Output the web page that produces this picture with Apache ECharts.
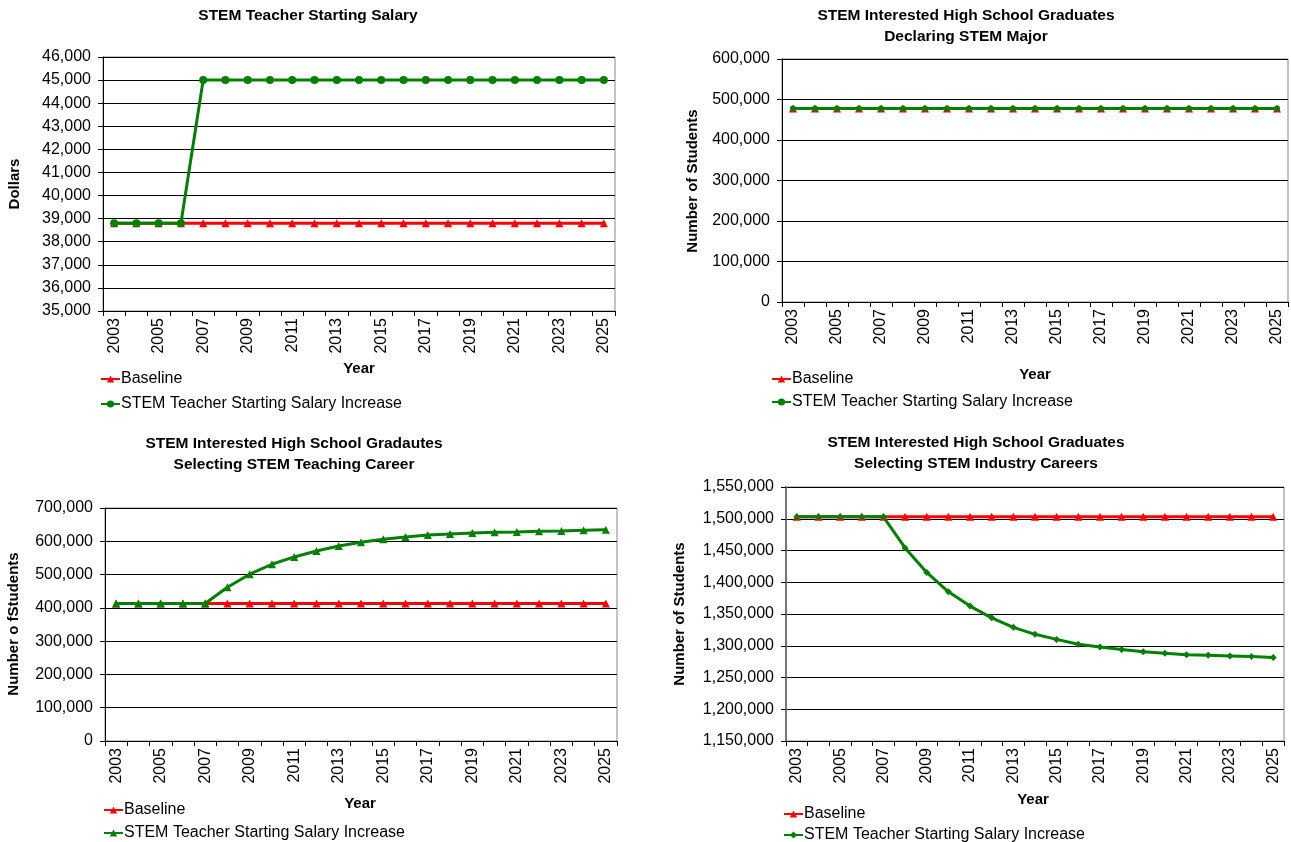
<!DOCTYPE html>
<html>
<head>
<meta charset="utf-8">
<script src="https://cdn.jsdelivr.net/npm/echarts@6/dist/echarts.min.js"></script>
<style>
html, body { margin: 0; padding: 0; background: #fff; overflow: hidden; }
.chart { position: absolute; }
</style>
</head>
<body>
<div id="c1" class="chart" style="left:0;top:0;width:645px;height:421px"></div>
<div id="c2" class="chart" style="left:645px;top:0;width:646px;height:421px"></div>
<div id="c3" class="chart" style="left:0;top:421px;width:645px;height:470px"></div>
<div id="c4" class="chart" style="left:645px;top:421px;width:646px;height:470px"></div>
<script>
const years = ["2003", "2004", "2005", "2006", "2007", "2008", "2009", "2010", "2011", "2012",
  "2013", "2014", "2015", "2016", "2017", "2018", "2019", "2020", "2021", "2022", "2023", "2024", "2025"];

const seriesNames = ["Baseline", "STEM Teacher Starting Salary Increase"];

// chart 1: starting salary (dollars)
const salaryBaseline = [38800, 38800, 38800, 38800, 38800, 38800, 38800, 38800, 38800, 38800,
  38800, 38800, 38800, 38800, 38800, 38800, 38800, 38800, 38800, 38800, 38800, 38800, 38800];
const salaryIncrease = [38800, 38800, 38800, 38800, 45000, 45000, 45000, 45000, 45000, 45000,
  45000, 45000, 45000, 45000, 45000, 45000, 45000, 45000, 45000, 45000, 45000, 45000, 45000];

// chart 2: declaring STEM major
const majorBaseline = [478000, 478000, 478000, 478000, 478000, 478000, 478000, 478000, 478000, 478000,
  478000, 478000, 478000, 478000, 478000, 478000, 478000, 478000, 478000, 478000, 478000, 478000, 478000];
const majorIncrease = [478000, 478000, 478000, 478000, 478000, 478000, 478000, 478000, 478000, 478000,
  478000, 478000, 478000, 478000, 478000, 478000, 478000, 478000, 478000, 478000, 478000, 478000, 478000];

// chart 3: selecting teaching career
const teachBaseline = [413000, 413000, 413000, 413000, 413000, 413000, 413000, 413000, 413000, 413000,
  413000, 413000, 413000, 413000, 413000, 413000, 413000, 413000, 413000, 413000, 413000, 413000, 413000];
const teachIncrease = [413000, 413000, 413000, 413000, 413000, 462000, 501000, 531000, 553000, 571000,
  586000, 597000, 606000, 613000, 619000, 622000, 625000, 627000, 628000, 630000, 631000, 633000, 635000];

// chart 4: selecting industry careers
const industryBaseline = [1503000, 1503000, 1503000, 1503000, 1503000, 1503000, 1503000, 1503000, 1503000, 1503000,
  1503000, 1503000, 1503000, 1503000, 1503000, 1503000, 1503000, 1503000, 1503000, 1503000, 1503000, 1503000, 1503000];
const industryIncrease = [1503000, 1503000, 1503000, 1503000, 1503000, 1454000, 1415500, 1385000, 1362500, 1344000,
  1329000, 1318000, 1310000, 1302500, 1298000, 1294000, 1290500, 1288000, 1286000, 1285000, 1284000, 1283000, 1281500];

const FONT = "'Liberation Sans', Arial, sans-serif";
const RED = "#ff0000";
const GREEN = "#008000";

function txt(text, x, y, opts) {
  opts = opts || {};
  return {
    type: "text",
    x: x,
    y: y,
    rotation: opts.rotate ? Math.PI / 2 : 0,
    style: {
      text: text,
      fontFamily: FONT,
      fontSize: opts.size || 15,
      fontWeight: "bold",
      fill: "#000",
      align: "center",
      verticalAlign: "middle",
      lineHeight: 21,
    },
  };
}

function makeChart(id, c) {
  let chart = echarts.init(document.getElementById(id));
  chart.setOption({
    animation: false,
    backgroundColor: "#fff",
    grid: {
      left: c.grid[0],
      top: c.grid[1],
      width: c.grid[2],
      height: c.grid[3],
      show: true,
      borderColor: "#888",
      borderWidth: 1,
    },
    legend: {
      orient: "vertical",
      left: c.legend[0],
      top: c.legend[1],
      padding: 0,
      itemWidth: 19,
      itemHeight: 9,
      itemGap: c.legend[2],
      data: seriesNames,
      textStyle: {
        fontFamily: FONT,
        fontSize: 16,
        lineHeight: 16,
        color: "#000",
        padding: [0, 0, 0, -4],
      },
    },
    graphic: [
      txt(c.title, c.titlePos[0], c.titlePos[1], { size: 15.5 }),
      txt(c.yName, c.yNamePos[0], c.yNamePos[1], { rotate: true }),
      txt("Year", c.xNamePos[0], c.xNamePos[1]),
    ],
    xAxis: {
      type: "category",
      data: years,
      boundaryGap: true,
      axisLine: { lineStyle: { color: "#000", width: 1 } },
      axisTick: { show: true, interval: 0, length: 5, lineStyle: { color: "#000" } },
      axisLabel: {
        interval: 1,
        rotate: 90,
        margin: 7,
        fontFamily: FONT,
        fontSize: 16,
        color: "#000",
      },
      splitLine: { show: false },
    },
    yAxis: {
      type: "value",
      min: c.y[0],
      max: c.y[1],
      interval: c.y[2],
      axisLine: { show: true, lineStyle: { color: c.yAxisColor || "#000", width: c.yAxisColor ? 2 : 1 } },
      axisTick: { show: true, length: 5, lineStyle: { color: "#000" } },
      axisLabel: {
        margin: 12,
        fontFamily: FONT,
        fontSize: 16,
        color: "#000",
        formatter: (v) => v.toLocaleString("en-US"),
      },
      splitLine: { show: true, lineStyle: { color: "#000", width: 1 } },
    },
    series: [
      {
        name: seriesNames[0],
        type: "line",
        data: c.data[0],
        symbol: "triangle",
        symbolSize: 8,
        lineStyle: { color: RED, width: 3 },
        itemStyle: { color: RED },
        z: 2,
      },
      {
        name: seriesNames[1],
        type: "line",
        data: c.data[1],
        symbol: c.greenSymbol,
        symbolSize: c.greenSize,
        lineStyle: { color: GREEN, width: 3 },
        itemStyle: { color: GREEN },
        z: 3,
      },
    ],
  });
}

makeChart("c1", {
  grid: [103, 57, 512, 254],
  y: [35000, 46000, 1000],
  data: [salaryBaseline, salaryIncrease],
  greenSymbol: "circle",
  greenSize: 8,
  title: "STEM Teacher Starting Salary",
  titlePos: [308, 16],
  yName: "Dollars",
  yNamePos: [15, 184],
  xNamePos: [359, 369],
  legend: [100, 371, 9],
});

makeChart("c2", {
  grid: [137, 59, 506, 243],
  y: [0, 600000, 100000],
  data: [majorBaseline, majorIncrease],
  greenSymbol: "circle",
  greenSize: 6,
  title: "STEM Interested High School Graduates\nDeclaring STEM Major",
  titlePos: [321, 26],
  yName: "Number of Students",
  yNamePos: [48, 181],
  xNamePos: [390, 375],
  legend: [126, 371, 7],
});

makeChart("c3", {
  grid: [105, 87, 512, 233],
  y: [0, 700000, 100000],
  data: [teachBaseline, teachIncrease],
  greenSymbol: "triangle",
  greenSize: 8,
  title: "STEM Interested High School Gradautes\nSelecting STEM Teaching Career",
  titlePos: [294, 33],
  yName: "Number o fStudents",
  yNamePos: [14, 203],
  xNamePos: [360, 383],
  legend: [103, 381, 7],
});

makeChart("c4", {
  grid: [141, 66, 498, 254],
  y: [1150000, 1550000, 50000],
  data: [industryBaseline, industryIncrease],
  greenSymbol: "diamond",
  greenSize: 7,
  title: "STEM Interested High School Graduates\nSelecting STEM Industry Careers",
  titlePos: [331, 32],
  yName: "Number of Students",
  yNamePos: [35, 193],
  xNamePos: [388, 379],
  legend: [138, 385, 5],
  yAxisColor: "#777",
});
</script>
</body>
</html>
